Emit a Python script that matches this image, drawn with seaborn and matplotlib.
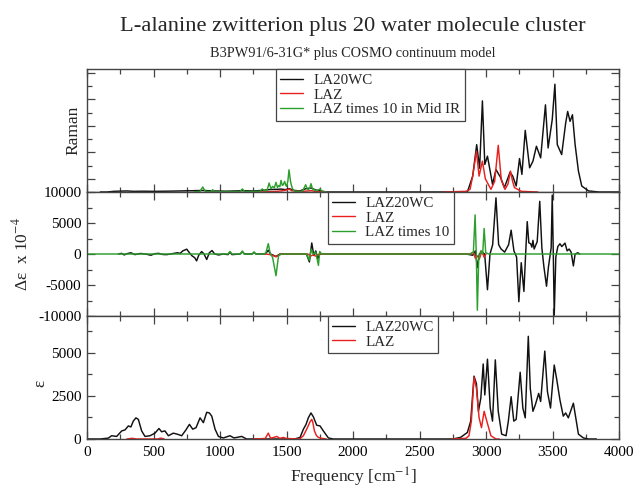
import matplotlib
matplotlib.use("Agg")
import matplotlib.pyplot as plt
from matplotlib.ticker import MultipleLocator, FixedLocator
from matplotlib.lines import Line2D
import pandas as pd
import seaborn as sns

# ---------------- data ----------------
# Top panel: Raman (arbitrary units, axis 0..930)
raman_la20wc = [(100, 0), (150, 0), (200, 5), (300, 8), (350, 5), (420, 6), (500, 5), (600, 6), (700, 8),
                (800, 10), (870, 12), (950, 8), (1050, 6), (1170, 10), (1250, 8), (1320, 12), (1370, 18),
                (1420, 20), (1460, 22), (1490, 18), (1520, 25), (1560, 12), (1600, 8), (1645, 25), (1685, 30),
                (1720, 15), (1760, 8), (1800, 0), (2700, 0), (2860, 0), (2900, 120), (2930, 358), (2952, 180),
                (2973, 689), (2991, 208), (3011, 271), (3049, 58), (3075, 170), (3092, 140), (3110, 110),
                (3138, 33), (3181, 150), (3201, 120), (3227, 45), (3252, 253), (3270, 133), (3295, 466),
                (3328, 183), (3353, 233), (3379, 346), (3411, 258), (3447, 659), (3467, 333), (3498, 547),
                (3518, 815), (3536, 358), (3569, 283), (3599, 521), (3614, 609), (3632, 534), (3650, 584),
                (3670, 358), (3695, 158), (3720, 45), (3771, 8), (3850, 0), (4000, 0)]
raman_laz = [[(1300, 0), (1400, 3), (1460, 8), (1500, 15), (1519, 22), (1540, 10), (1600, 3), (1660, 8),
              (1690, 10), (1720, 3), (1800, 0)],
             [(2680, 0), (2850, 5), (2880, 20), (2900, 120), (2928, 308), (2948, 120), (2973, 233), (2995, 100),
              (3037, 20), (3065, 80), (3092, 353), (3115, 90), (3143, 20), (3165, 60), (3184, 158), (3200, 80),
              (3214, 33), (3265, 5), (3390, 0)]]
raman_laz10 = [(800, 0), (850, 5), (870, 38), (890, 5), (930, 3), (945, 17), (960, 3), (1050, 3), (1150, 4),
               (1168, 23), (1185, 4), (1300, 5), (1318, 23), (1335, 8), (1355, 15), (1369, 68), (1383, 25),
               (1396, 43), (1408, 30), (1421, 73), (1432, 35), (1441, 48), (1450, 40), (1459, 88), (1468, 50),
               (1476, 55), (1486, 80), (1495, 50), (1501, 43), (1510, 80), (1519, 168), (1530, 80), (1539, 43),
               (1550, 15), (1564, 5), (1620, 5), (1644, 55), (1655, 25), (1664, 18), (1675, 30), (1684, 63),
               (1695, 25), (1714, 13), (1730, 10), (1752, 23), (1765, 8), (1777, 0), (1800, 0)]

# Middle panel: delta epsilon x 10^-4
vcd_laz20wc = [(236, 0), (260, 100), (280, -150), (300, 50), (330, 200), (360, -100), (400, 80), (420, 50),
               (450, -50), (480, -200), (510, 50), (540, 100), (570, -80), (600, -100), (640, 50), (680, 200),
               (700, 100), (720, 500), (750, 780), (770, 200), (790, -300), (810, -600), (824, -1110), (840, -200),
               (862, 390), (880, 0), (900, -890), (920, 200), (940, 560), (960, 0), (990, -150), (1025, 0),
               (1060, -100), (1075, 300), (1090, -100), (1150, 0), (1168, 350), (1185, 0), (1240, 0), (1256, 250),
               (1270, 0), (1340, 0), (1363, 600), (1380, 0), (1421, -400), (1450, 0), (1650, 0), (1672, -1280),
               (1690, 1780), (1705, -200), (1720, 500), (1735, -800), (1750, 0), (1780, 0), (2850, 0),
               (2900, -200), (2920, 500), (2935, -2200), (2950, 0), (2970, 300), (2990, 0), (3011, -5760),
               (3030, 0), (3050, 1500), (3075, 9060), (3095, 1500), (3113, 820), (3140, 300), (3170, 1500),
               (3189, 3840), (3210, 500), (3230, -500), (3247, -7690), (3265, -1400), (3285, -6040), (3298, 0),
               (3310, 5220), (3322, 1800), (3336, 1650), (3345, 1100), (3353, 2200), (3362, 800), (3385, 2000),
               (3404, 8500), (3420, 1000), (3435, -2000), (3455, -5200), (3470, -2000), (3490, 1000),
               (3498, 9500), (3506, 0), (3513, -9880), (3525, -500), (3540, 1200), (3556, 1650), (3570, 1200),
               (3594, 1760), (3610, 500), (3625, 800), (3640, 300), (3657, -1920), (3670, 0), (3690, 200),
               (3705, 0)]
vcd_laz = [(1340, 0), (1380, -100), (1405, -300), (1421, -450), (1440, -200), (1460, 0), (1660, 0),
           (1680, -350), (1700, -150), (1720, -350), (1745, 0), (2880, 0), (2905, 300), (2920, -700),
           (2935, -300), (2950, -800), (2970, 500), (2985, -500), (3000, 0)]
vcd_laz10 = [(0, 0), (1060, 0), (1075, 400), (1090, 0), (1155, 0), (1168, 500), (1180, 0), (1245, 0),
             (1256, 350), (1268, 0), (1330, 0), (1345, 200), (1363, 1670), (1378, 0), (1395, -500),
             (1421, -3500), (1440, -300), (1460, 0), (1650, 0), (1672, -1000), (1685, 800), (1700, 0),
             (1720, 300), (1740, -1830), (1750, 400), (1765, 0), (2880, 0), (2905, 300), (2918, 6300),
             (2927, 0), (2935, -9060), (2945, -1000), (2960, 500), (2975, 0), (2986, 4120), (2998, 200),
             (3020, 0), (4000, 0)]

# Bottom panel: epsilon
eps_laz20wc = [(0, 0), (98, 0), (160, 50), (185, 190), (223, 150), (261, 470), (286, 530), (311, 760),
               (330, 700), (348, 1040), (368, 1230), (386, 1140), (411, 470), (436, 150), (474, 190), (511, 340),
               (541, 610), (561, 420), (586, 470), (612, 190), (649, 340), (679, 280), (712, 190), (744, 530),
               (770, 850), (795, 570), (820, 660), (850, 1230), (875, 950), (900, 1550), (920, 1515),
               (938, 1330), (963, 570), (988, 150), (1025, 60), (1075, 190), (1105, 60), (1163, 150), (1200, 0),
               (1560, 0), (1602, 90), (1627, 570), (1647, 850), (1664, 1230), (1684, 1515), (1702, 1290),
               (1727, 800), (1752, 760), (1777, 470), (1815, 60), (1852, 0), (2750, 0), (2809, 95), (2860, 380),
               (2885, 1040), (2910, 3655), (2928, 3220), (2943, 1610), (2961, 2370), (2979, 4360), (2991, 2560),
               (3011, 4640), (3032, 1800), (3049, 1040), (3070, 4600), (3092, 1610), (3118, 280), (3151, 190),
               (3168, 1040), (3189, 2460), (3209, 1040), (3227, 1140), (3257, 3880), (3277, 1800), (3295, 1230),
               (3318, 5970), (3333, 2940), (3353, 1610), (3371, 1990), (3396, 2650), (3411, 2180), (3442, 5110),
               (3462, 2750), (3485, 1800), (3513, 4300), (3531, 3500), (3556, 2270), (3581, 1330), (3599, 1515),
               (3619, 1230), (3657, 2080), (3675, 1230), (3695, 280), (3733, 60), (3771, 0), (3830, 0)]
eps_laz = [[(300, 0), (340, 40), (370, 0), (530, 0), (555, 50), (580, 0)],
           [(1250, 0), (1340, 30), (1363, 340), (1380, 50), (1400, 80), (1426, 150), (1450, 40), (1476, 90),
            (1500, 30), (1600, 0), (1627, 190), (1652, 570), (1677, 1000), (1690, 1140), (1697, 1000),
            (1710, 470), (1725, 200), (1740, 90), (1764, 40), (1800, 0)],
           [(2740, 0), (2850, 40), (2872, 190), (2890, 1040), (2910, 3600), (2928, 2940), (2948, 1230),
            (2966, 660), (2986, 1610), (3006, 1040), (3037, 190), (3075, 0), (3100, 0)]]

title = "L-alanine zwitterion plus 20 water molecule cluster"
subtitle = "B3PW91/6-31G* plus COSMO continuum model"

# ---------------- style ----------------
sns.set_style("ticks")
plt.rcParams["font.family"] = ["Liberation Serif", "DejaVu Serif"]
plt.rcParams["mathtext.fontset"] = "stix"
plt.rcParams["axes.unicode_minus"] = False

BLACK, RED, GREEN = "#111111", "#e8201e", "#2c9f2c"
SPINE = "#444444"


def frame(series):
    rows = []
    for name, segs in series:
        if isinstance(segs[0], tuple):
            segs = [segs]
        for k, seg in enumerate(segs):
            for f, v in seg:
                rows.append((name, f"{name}_{k}", f, v))
    return pd.DataFrame(rows, columns=["series", "seg", "freq", "value"])


fig = plt.figure(figsize=(6.33, 4.88), dpi=100)
gs = fig.add_gridspec(3, 1, left=87 / 633, right=619 / 633, top=1 - 69 / 488, bottom=1 - 439 / 488,
                      hspace=0, height_ratios=[123, 124, 123])
ax1 = fig.add_subplot(gs[0])
ax2 = fig.add_subplot(gs[1], sharex=ax1)
ax3 = fig.add_subplot(gs[2], sharex=ax1)

panels = [
    (ax1, [("LA20WC", raman_la20wc), ("LAZ", raman_laz), ("LAZ times 10 in Mid IR", raman_laz10)],
     [BLACK, RED, GREEN], 0.355),
    (ax2, [("LAZ20WC", vcd_laz20wc), ("LAZ", vcd_laz), ("LAZ times 10", vcd_laz10)],
     [BLACK, RED, GREEN], 0.453),
    (ax3, [("LAZ20WC", eps_laz20wc), ("LAZ", eps_laz)], [BLACK, RED], 0.453),
]

for ax, series, cols, lx in panels:
    df = frame(series)
    names = [s[0] for s in series]
    sns.lineplot(data=df, x="freq", y="value", hue="series", units="seg", estimator=None,
                 hue_order=names, palette=cols, sort=False, lw=1.05, legend=False, ax=ax)
    handles = [Line2D([], [], color=c, lw=1.0) for c in cols]
    leg = ax.legend(handles, names, loc="upper left", bbox_to_anchor=(lx, 1.0), borderaxespad=0,
                    frameon=True, fancybox=False, edgecolor=SPINE, framealpha=1, fontsize=10.8,
                    handlelength=1.5, handletextpad=0.7, borderpad=0.3, labelspacing=0.08)
    leg.get_frame().set_linewidth(0.9)
    ax.set_xlim(0, 4000)
    ax.xaxis.set_major_locator(MultipleLocator(500))
    ax.xaxis.set_minor_locator(MultipleLocator(250))
    ax.tick_params(which="both", direction="in", top=True, right=True, colors=SPINE,
                   labelcolor="black", labelsize=11)
    ax.tick_params(which="major", length=6, width=0.9, pad=4)
    ax.tick_params(which="minor", length=3.5, width=0.9)
    for s in ax.spines.values():
        s.set_color(SPINE)
        s.set_linewidth(1.0)
    ax.set_xlabel("")
    ax.set_ylabel("")

ax1.set_ylim(0, 930)
ax1.yaxis.set_major_locator(FixedLocator([100, 300, 500, 700, 900]))
ax1.yaxis.set_minor_locator(FixedLocator([200, 400, 600, 800]))
ax1.tick_params(labelleft=False, labelbottom=False)

ax2.set_ylim(-10000, 10000)
ax2.yaxis.set_major_locator(MultipleLocator(5000))
ax2.yaxis.set_minor_locator(MultipleLocator(2500))
ax2.tick_params(labelbottom=False)

ax3.set_ylim(0, 7150)
ax3.yaxis.set_major_locator(FixedLocator([0, 2500, 5000]))
ax3.yaxis.set_minor_locator(FixedLocator([1250, 3750, 6250]))
ax3.tick_params(axis="x", which="major", pad=5)

ax1.set_ylabel("Raman", fontsize=12.5)
ax1.yaxis.set_label_coords(-0.01, 0.5)
ax2.set_ylabel("Δε  x 10$^{-4}$", fontsize=12.5)
ax2.yaxis.set_label_coords(-0.104, 0.5)
ax3.set_ylabel("ε", fontsize=12.5)
ax3.yaxis.set_label_coords(-0.073, 0.45)
ax3.set_xlabel("Frequency [cm$^{-1}$]", fontsize=12.5, labelpad=5)

cx = 0.5 * (87 / 633 + 619 / 633)
fig.text(cx, 1 - 27 / 488, title, ha="center", va="center", fontsize=16.2)
fig.text(cx, 1 - 53 / 488, subtitle, ha="center", va="center", fontsize=10.3)

fig.savefig("out.png", dpi=100)
